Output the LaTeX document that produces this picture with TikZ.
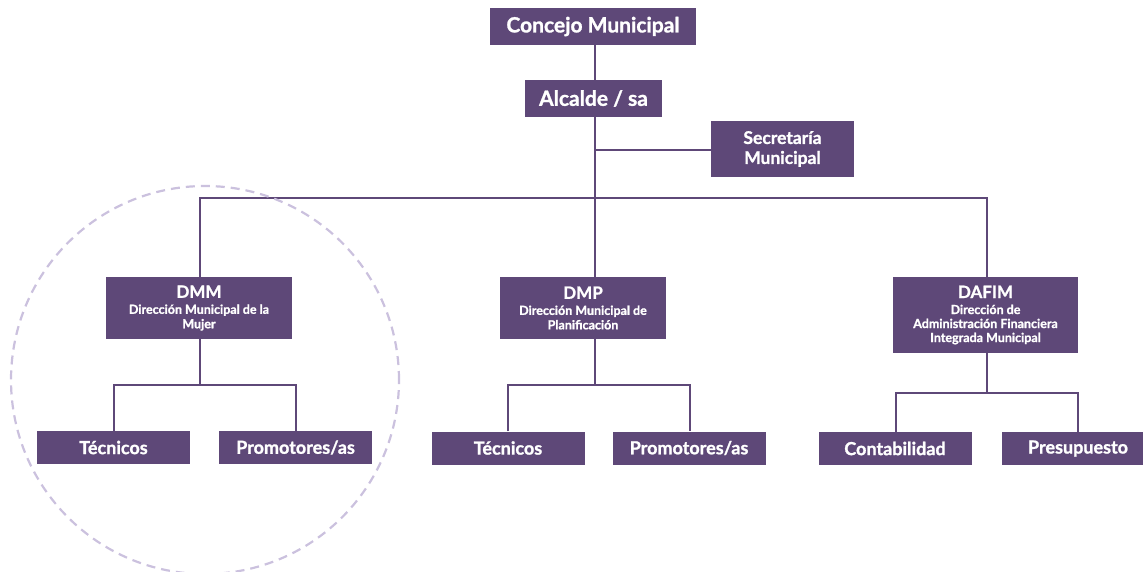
\documentclass[tikz,border=0pt]{standalone}
\usepackage{fontspec}
\setmainfont{Lato}[BoldFeatures={FakeBold=1.2}]
\definecolor{boxc}{HTML}{5E4878}
\definecolor{circc}{HTML}{CBC1DE}
\newcommand{\bigt}{\fontsize{17}{19}\selectfont}
\newcommand{\smallt}{\fontsize{12.5}{15}\selectfont}
\tikzset{
  orgbox/.style={fill=boxc, text=white, font=\bfseries, inner sep=0pt, align=center, anchor=center},
  conn/.style={draw=boxc, line width=2pt},
}
\begin{document}
\begin{tikzpicture}[x=1pt,y=-1pt]
\useasboundingbox (0,0) rectangle (1143,571);
% top
\node[orgbox, minimum width=206pt, minimum height=37pt, font=\bfseries\fontsize{21}{23}\selectfont] (cm) at (593,26.5) {Concejo Municipal};
\node[orgbox, minimum width=137pt, minimum height=37pt, font=\bfseries\fontsize{21}{23}\selectfont] (al) at (593.5,98.5) {Alcalde / sa};
\node[orgbox, minimum width=143pt, minimum height=56pt, font=\bfseries\fontsize{17.5}{20}\selectfont] (sec) at (782.5,149) {Secretaría\\Municipal};
% directions
\node[orgbox, minimum width=186pt, minimum height=62pt] (dmm) at (199,308) {\bigt DMM\\[4pt]\smallt Dirección Municipal de la\\[2.5pt]\smallt Mujer};
\node[orgbox, minimum width=166pt, minimum height=62pt] (dmp) at (583,308) {\bigt DMP\\[4pt]\smallt Dirección Municipal de\\[2.5pt]\smallt Planificación};
\node[orgbox, minimum width=185pt, minimum height=76pt] (daf) at (985.5,315) {\bigt DAFIM\\[4pt]\smallt Dirección de\\[2pt]\smallt Administración Financiera\\[2pt]\smallt Integrada Municipal};
% children
\tikzset{leaf/.style={orgbox, minimum width=153pt, minimum height=33pt, font=\bfseries\fontsize{18}{20}\selectfont}}
\node[leaf] (t1) at (113.5,447.5) {Técnicos};
\node[leaf] (p1) at (295.5,447.5) {Promotores/as};
\node[leaf] (t2) at (508,448) {Técnicos};
\node[leaf] (p2) at (689,448) {Promotores/as};
\node[leaf] (c3) at (895,448.5) {Contabilidad};
\node[leaf] (r3) at (1078,448.5) {Presupuesto};
% coordinates
\coordinate (j1) at (595,150);
\coordinate (j2) at (595,198);
\coordinate (hl) at (200,198);
\coordinate (hr) at (987,198);
% connectors
\draw[conn] (cm.south -| j1) -- (al.north -| j1);
\draw[conn] (al.south -| j1) -- (j2);
\draw[conn] (j1) -- (sec.west |- j1);
\draw[conn] (dmm.north -| hl) -- (hl) -- (hr) -- (daf.north -| hr);
\draw[conn] (j2) -- (dmp.north -| j2);
\draw[conn] (dmm.south -| 200,0) -- (200,385);
\draw[conn] (t1.north -| 114,0) -- (114,385) -- (296,385) -- (p1.north -| 296,0);
\draw[conn] (dmp.south -| 595,0) -- (595,385);
\draw[conn] (t2.north -| 508,0) -- (508,385) -- (690,385) -- (p2.north -| 690,0);
\draw[conn] (daf.south -| 987,0) -- (987,393);
\draw[conn] (c3.north -| 896,0) -- (896,393) -- (1078,393) -- (r3.north -| 1078,0);
% dashed circle
\node[draw=circc, line width=2.2pt, dash pattern=on 9pt off 6pt, circle, minimum size=388pt, inner sep=0pt] (circ) at (205,380) {};
\end{tikzpicture}
\end{document}
